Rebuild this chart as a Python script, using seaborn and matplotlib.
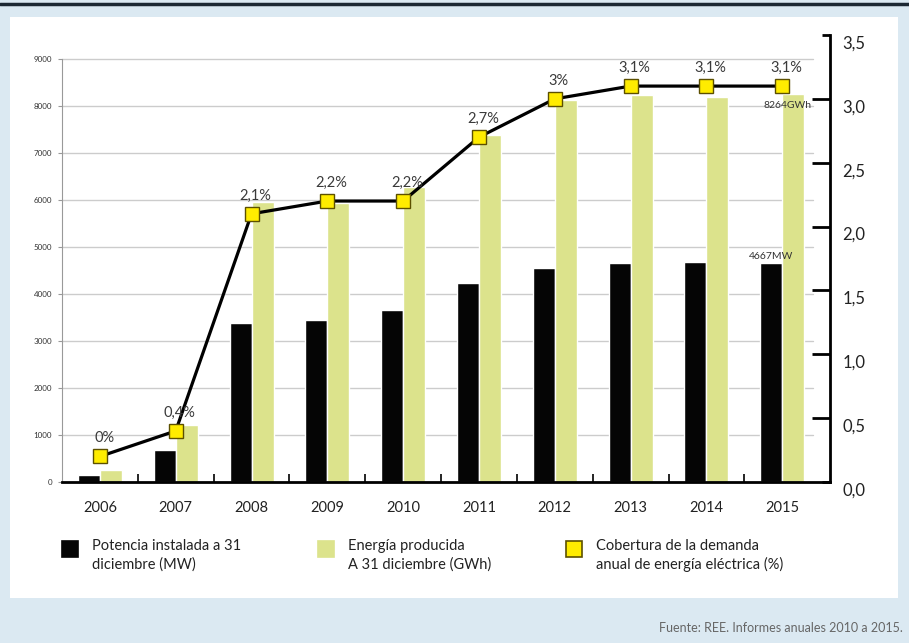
import numpy as np
import pandas as pd
import matplotlib
matplotlib.use("Agg")
import matplotlib.pyplot as plt
import seaborn as sns
from matplotlib.patches import Rectangle
from matplotlib.lines import Line2D
from matplotlib.ticker import FixedLocator, FixedFormatter
from matplotlib.transforms import ScaledTranslation

# ---------------- data ----------------
years = ["2006", "2007", "2008", "2009", "2010", "2011", "2012", "2013", "2014", "2015"]
potencia_mw = [150, 680, 3390, 3450, 3650, 4240, 4560, 4660, 4690, 4667]
energia_gwh = [260, 1210, 5950, 5930, 6270, 7380, 8120, 8240, 8200, 8264]
cobertura_plot = [0.2, 0.4, 2.1, 2.2, 2.2, 2.7, 3.0, 3.1, 3.1, 3.1]
cobertura_labels = ["0%", "0,4%", "2,1%", "2,2%", "2,2%", "2,7%", "3%", "3,1%", "3,1%", "3,1%"]
left_ticks = [0, 1000, 2000, 3000, 4000, 5000, 6000, 7000, 8000, 9000]
right_major = [0.5, 1.0, 1.5, 2.0, 2.5, 3.0]
right_major_labels = ["0,5", "1,0", "1,5", "2,0", "2,5", "3,0"]
right_minor = [0.0, 3.5]
right_minor_labels = ["0,0", "3,5"]
legend_labels = ["Potencia instalada a 31\ndiciembre (MW)",
                 "Energía producida\nA 31 diciembre (GWh)",
                 "Cobertura de la demanda\nanual de energía eléctrica (%)"]
annot_gwh = "8264GWh"
annot_mw = "4667MW"
source = "Fuente: REE. Informes anuales 2010 a 2015."

# ---------------- style ----------------
sns.set_theme(style="white")
plt.rcParams["font.family"] = ["Lato", "DejaVu Sans"]

BLACK = "#050505"
GREEN = "#dce38c"
YELLOW = "#ffec00"
YEDGE = "#5c5000"
BG = "#dbe9f2"
W, H = 909, 643

fig = plt.figure(figsize=(W / 100, H / 100), dpi=100, facecolor=BG)
# white panel
fig.add_artist(Rectangle((10 / W, 1 - 598 / H), 888 / W, 581 / H,
                         transform=fig.transFigure, facecolor="white",
                         edgecolor="none", zorder=0))
# top dark rule
fig.add_artist(Line2D([0, 1], [1 - 4 / H, 1 - 4 / H], transform=fig.transFigure,
                      color="#1c2833", lw=2.5))

ax = fig.add_axes([62 / W, 1 - 482 / H, (830 - 62) / W, (482 - 35) / H])
ax.set_facecolor("none")

df = pd.DataFrame({
    "year": years * 2,
    "valor": potencia_mw + energia_gwh,
    "serie": ["Potencia"] * len(years) + ["Energia"] * len(years),
})
sns.barplot(data=df, x="year", y="valor", hue="serie", palette=[BLACK, GREEN],
            width=0.58, saturation=1, legend=False, ax=ax, zorder=2)

ytop = 9000 * (482 - 35) / (482 - 59)
ax.set_ylim(0, ytop)
ax.set_xlim(-0.5, 9.63)
ax.set_xlabel("")
ax.set_ylabel("")
ax.set_yticks(left_ticks)
ax.set_yticklabels([str(t) for t in left_ticks])
for t in left_ticks[1:]:
    ax.axhline(t, xmin=0, xmax=(813 - 62) / (830 - 62), color="#cccccc", lw=1, zorder=0.5)

for s in ["top", "right"]:
    ax.spines[s].set_visible(False)
ax.spines["left"].set_bounds(0, 9000)
ax.spines["left"].set_color("#999999")
ax.spines["left"].set_linewidth(0.8)
ax.spines["bottom"].set_color("black")
ax.spines["bottom"].set_linewidth(2)
ax.spines["bottom"].set_zorder(5)

ax.tick_params(axis="y", which="major", labelsize=5.8, length=3, width=0.8,
               color="#999999", labelcolor="#333333", pad=4, left=True)
ax.tick_params(axis="x", which="major", labelsize=10.5, length=0, pad=14,
               labelcolor="#222222")
ax.xaxis.set_minor_locator(FixedLocator(np.arange(len(years) - 1) + 0.5))
ax.tick_params(axis="x", which="minor", direction="in", length=6, width=1.2,
               color="black", bottom=True)

# annotations on bars
ax.annotate(annot_gwh, (len(years) - 1, energia_gwh[-1]), xytext=(4, -5),
            textcoords="offset points", ha="center", va="top", fontsize=7.5,
            color="#333333", zorder=6)
ax.annotate(annot_mw, (len(years) - 1, potencia_mw[-1]), xytext=(-8, 1),
            textcoords="offset points", ha="center", va="bottom", fontsize=7.5,
            color="#333333", zorder=6)

# ---------------- coverage line ----------------
ax2 = ax.twinx()
ax2.set_facecolor("none")
sns.lineplot(x=np.arange(len(years)), y=cobertura_plot, ax=ax2, color="black",
             lw=2.3, marker="s", markersize=10, markerfacecolor=YELLOW,
             markeredgecolor=YEDGE, markeredgewidth=1)
for i, (v, lab) in enumerate(zip(cobertura_plot, cobertura_labels)):
    ax2.annotate(lab, (i, v), xytext=(3, 8), textcoords="offset points",
                 ha="center", va="bottom", fontsize=10.5, color="#3a3a3a")
ax2.set_ylim(0, 3.5)
ax.set_xlim(-0.5, 9.63)
ax2.set_ylabel("")
for s in ["top", "left", "bottom"]:
    ax2.spines[s].set_visible(False)
ax2.spines["right"].set_bounds(0, 3.5)
ax2.spines["right"].set_color("black")
ax2.spines["right"].set_linewidth(2)

ax2.yaxis.set_major_locator(FixedLocator(right_major))
ax2.yaxis.set_major_formatter(FixedFormatter(right_major_labels))
ax2.yaxis.set_minor_locator(FixedLocator(right_minor))
ax2.yaxis.set_minor_formatter(FixedFormatter(right_minor_labels))
ax2.tick_params(axis="y", which="major", direction="in", length=13, width=2,
                color="black", labelsize=12, pad=9, labelcolor="#222222", right=True)
ax2.tick_params(axis="y", which="minor", direction="in", length=6, width=2,
                color="black", labelsize=12, pad=9, labelcolor="#222222", right=True,
                labelright=True)
off = ScaledTranslation(0, -7 / 100, fig.dpi_scale_trans)
for lab in ax2.get_yticklabels(which="both"):
    lab.set_transform(lab.get_transform() + off)

# ---------------- legend (manual) ----------------
leg_x = [62, 318, 566]
leg_fc = [BLACK, GREEN, YELLOW]
leg_ec = [BLACK, GREEN, YEDGE]
for x, fc, ec, text in zip(leg_x, leg_fc, leg_ec, legend_labels):
    fig.add_artist(Rectangle((x / W, 1 - 557 / H), 16 / W, 16 / H,
                             transform=fig.transFigure, facecolor=fc,
                             edgecolor=ec, lw=1.2, zorder=3))
    fig.text((x + 30) / W, 1 - 539 / H, text, ha="left", va="top",
             fontsize=10.5, color="#222222", linespacing=1.35)

fig.text(903 / W, 1 - 628 / H, source, ha="right", va="center", fontsize=9,
         color="#666666")

fig.savefig("out.png", dpi=100, facecolor=BG)
